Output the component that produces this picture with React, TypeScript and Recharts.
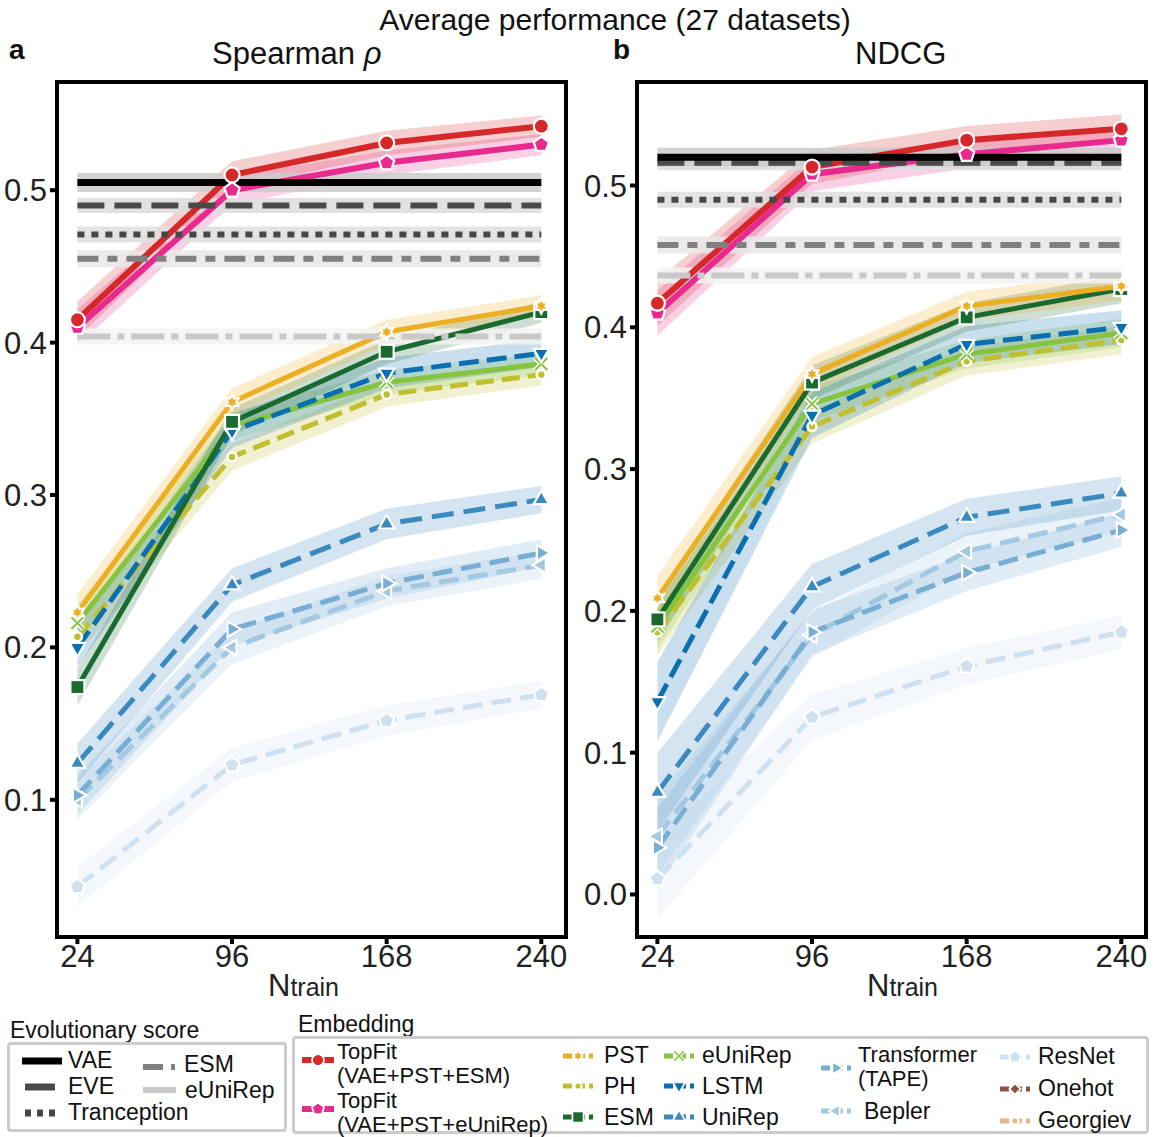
import React from 'react';
import { ComposedChart, Line, Area, XAxis, YAxis, ReferenceArea } from 'recharts';

const FONT = '"Liberation Sans", Arial, Helvetica, sans-serif';

// training set sizes
const nTrain = [24, 96, 168, 240];

// Spearman rho, averaged over datasets
const spTopfitEsm = [0.415, 0.510, 0.531, 0.542];
const spTopfitEuni = [0.410, 0.500, 0.518, 0.530];
const spPst = [0.223, 0.361, 0.407, 0.424];
const spPh = [0.207, 0.325, 0.366, 0.379];
const spEsm = [0.174, 0.348, 0.394, 0.420];
const spEuni = [0.216, 0.345, 0.374, 0.386];
const spLstm = [0.200, 0.342, 0.380, 0.393];
const spUnirep = [0.124, 0.241, 0.281, 0.297];
const spTape = [0.103, 0.212, 0.242, 0.262];
const spBepler = [0.100, 0.200, 0.237, 0.254];
const spResnet = [0.043, 0.123, 0.152, 0.169];
// evolutionary scores (no training): VAE, EVE, Tranception, ESM, eUniRep
const spEvo = [0.505, 0.490, 0.471, 0.455, 0.404];

// NDCG, averaged over datasets
const ndTopfitEsm = [0.417, 0.513, 0.532, 0.540];
const ndTopfitEuni = [0.410, 0.508, 0.522, 0.532];
const ndPst = [0.209, 0.367, 0.415, 0.429];
const ndPh = [0.185, 0.330, 0.376, 0.391];
const ndEsm = [0.194, 0.361, 0.407, 0.427];
const ndEuni = [0.189, 0.346, 0.381, 0.396];
const ndLstm = [0.136, 0.338, 0.388, 0.400];
const ndUnirep = [0.072, 0.217, 0.266, 0.283];
const ndTape = [0.033, 0.185, 0.227, 0.257];
const ndBepler = [0.041, 0.183, 0.242, 0.268];
const ndResnet = [0.011, 0.125, 0.161, 0.185];
const ndEvo = [0.520, 0.516, 0.490, 0.458, 0.4365];

// half-width of the shaded interval at each training size
const spCi = [0.012, 0.009, 0.008, 0.007];
const spCiBlue = [0.013, 0.011, 0.010, 0.009];
const ndCi = [0.016, 0.012, 0.010, 0.010];
const ndCiBlue = [0.028, 0.016, 0.013, 0.012];

const spTicks = [0.1, 0.2, 0.3, 0.4, 0.5];
const ndTicks = [0.0, 0.1, 0.2, 0.3, 0.4, 0.5];

type Shape = 'circle' | 'pentagon' | 'star' | 'dot' | 'square' | 'x' | 'down' | 'up' | 'right' | 'left' | 'diamond';

interface Series {
  key: string;
  name: string;
  color: string;
  dash?: string;
  width: number;
  shape: Shape;
  blue?: boolean;
}

// drawn bottom to top
const series: Series[] = [
  { key: 'resnet', name: 'ResNet', color: '#cfe1f0', dash: '20 9', width: 5, shape: 'pentagon', blue: true },
  { key: 'bepler', name: 'Bepler', color: '#a3c8e2', dash: '20 9', width: 5, shape: 'left', blue: true },
  { key: 'tape', name: 'Transformer (TAPE)', color: '#78aed4', dash: '20 9', width: 5, shape: 'right', blue: true },
  { key: 'unirep', name: 'UniRep', color: '#3a8ac0', dash: '22 10', width: 5, shape: 'up', blue: true },
  { key: 'ph', name: 'PH', color: '#bfbf30', dash: '18 8', width: 5, shape: 'dot' },
  { key: 'euni', name: 'eUniRep', color: '#86c440', width: 5, shape: 'x' },
  { key: 'lstm', name: 'LSTM', color: '#0a6fb0', dash: '20 8', width: 5, shape: 'down', blue: true },
  { key: 'esm', name: 'ESM', color: '#1a6a30', width: 5, shape: 'square' },
  { key: 'pst', name: 'PST', color: '#ecae22', width: 5, shape: 'star' },
  { key: 'topEuni', name: 'TopFit (VAE+PST+eUniRep)', color: '#e8298e', width: 6, shape: 'pentagon' },
  { key: 'topEsm', name: 'TopFit (VAE+PST+ESM)', color: '#d6282a', width: 6, shape: 'circle' },
];

interface Evo {
  key: string;
  name: string;
  color: string;
  dash?: string;
  band: string;
  bandWidth: number;
}

const evo: Evo[] = [
  { key: 'eUniRepEvo', name: 'eUniRep', color: '#c9c9c9', dash: '33 7 7 7', band: '#f3f3f3', bandWidth: 16 },
  { key: 'esmEvo', name: 'ESM', color: '#808080', dash: '21 9 10 9', band: '#e8e8e8', bandWidth: 17 },
  { key: 'tranception', name: 'Tranception', color: '#474747', dash: '7 7', band: '#dedede', bandWidth: 16 },
  { key: 'eve', name: 'EVE', color: '#4a4a4a', dash: '27 10', band: '#dcdcdc', bandWidth: 15 },
  { key: 'vae', name: 'VAE', color: '#000000', band: '#cbcbcb', bandWidth: 19 },
];

function buildRows(values: Record<string, number[]>, evoVals: number[], ci: number[], ciBlue: number[]) {
  return nTrain.map((n, i) => {
    const row: Record<string, number | number[]> = { n };
    series.forEach((s) => {
      const v = values[s.key][i];
      const h = s.blue ? ciBlue[i] : ci[i];
      row[s.key] = v;
      row[s.key + 'Band'] = [v - h, v + h];
    });
    // evo entries are listed VAE first in the value arrays
    ['vae', 'eve', 'tranception', 'esmEvo', 'eUniRepEvo'].forEach((k, j) => {
      row[k] = evoVals[j];
    });
    return row;
  });
}

const spRows = buildRows(
  {
    topEsm: spTopfitEsm, topEuni: spTopfitEuni, pst: spPst, ph: spPh, esm: spEsm, euni: spEuni,
    lstm: spLstm, unirep: spUnirep, tape: spTape, bepler: spBepler, resnet: spResnet,
  },
  spEvo, spCi, spCiBlue,
);

const ndRows = buildRows(
  {
    topEsm: ndTopfitEsm, topEuni: ndTopfitEuni, pst: ndPst, ph: ndPh, esm: ndEsm, euni: ndEuni,
    lstm: ndLstm, unirep: ndUnirep, tape: ndTape, bepler: ndBepler, resnet: ndResnet,
  },
  ndEvo, ndCi, ndCiBlue,
);

function polygon(cx: number, cy: number, r: number, k: number, rot: number) {
  const pts: string[] = [];
  for (let i = 0; i < k; i++) {
    const a = rot + (i * 2 * Math.PI) / k;
    pts.push(`${cx + r * Math.cos(a)},${cy + r * Math.sin(a)}`);
  }
  return pts.join(' ');
}

function starPoints(cx: number, cy: number, r: number) {
  const pts: string[] = [];
  for (let i = 0; i < 12; i++) {
    const a = -Math.PI / 2 + (i * Math.PI) / 6;
    const rr = i % 2 === 0 ? r : r * 0.55;
    pts.push(`${cx + rr * Math.cos(a)},${cy + rr * Math.sin(a)}`);
  }
  return pts.join(' ');
}

function Marker({ cx, cy, shape, color, scale = 1 }: { cx: number; cy: number; shape: Shape; color: string; scale?: number }) {
  const sw = 2.2 * scale;
  const common = { fill: color, stroke: '#ffffff', strokeWidth: sw };
  const s = scale;
  switch (shape) {
    case 'circle':
      return <circle cx={cx} cy={cy} r={7.5 * s} {...common} />;
    case 'pentagon':
      return <polygon points={polygon(cx, cy, 8 * s, 5, -Math.PI / 2)} {...common} />;
    case 'star':
      return <polygon points={starPoints(cx, cy, 7.5 * s)} {...common} />;
    case 'dot':
      return <circle cx={cx} cy={cy} r={4.5 * s} {...common} strokeWidth={2.6 * s} />;
    case 'square':
      return <rect x={cx - 7 * s} y={cy - 7 * s} width={14 * s} height={14 * s} {...common} />;
    case 'diamond':
      return <polygon points={polygon(cx, cy, 7 * s, 4, -Math.PI / 2)} {...common} />;
    case 'x':
      return (
        <g>
          <path d={`M${cx - 6 * s},${cy - 6 * s}L${cx + 6 * s},${cy + 6 * s}M${cx - 6 * s},${cy + 6 * s}L${cx + 6 * s},${cy - 6 * s}`} stroke="#ffffff" strokeWidth={5 * s} />
          <path d={`M${cx - 6 * s},${cy - 6 * s}L${cx + 6 * s},${cy + 6 * s}M${cx - 6 * s},${cy + 6 * s}L${cx + 6 * s},${cy - 6 * s}`} stroke={color} strokeWidth={2 * s} />
        </g>
      );
    case 'down':
      return <polygon points={polygon(cx, cy, 9 * s, 3, Math.PI / 2)} {...common} />;
    case 'up':
      return <polygon points={polygon(cx, cy, 9 * s, 3, -Math.PI / 2)} {...common} />;
    case 'right':
      return <polygon points={polygon(cx, cy, 9 * s, 3, 0)} {...common} />;
    case 'left':
      return <polygon points={polygon(cx, cy, 9 * s, 3, Math.PI)} {...common} />;
    default:
      return null;
  }
}

function XTitle(props: any) {
  const vb = props.viewBox || {};
  const x = vb.x + vb.width / 2 + (props.shift || 0);
  const y = vb.y + 59;
  return (
    <text x={x} y={y} textAnchor="middle" fontFamily={FONT} fill="#222">
      <tspan fontSize={31}>N</tspan>
      <tspan fontSize={25}>train</tspan>
    </text>
  );
}

const tickFont = { fill: '#222', fontSize: 31, fontFamily: FONT };
const X_DOMAIN: [number, number] = [14.5, 251.5];

function Panel({ rows, yDomain, yTicks, width, titleShift }: { rows: any[]; yDomain: [number, number]; yTicks: number[]; width: number; titleShift: number }) {
  const height = 1010;
  return (
    <ComposedChart width={width} height={height} data={rows} margin={{ top: 82, right: width - 565 - 1, left: 2, bottom: 3 }}>
      <XAxis
        dataKey="n"
        type="number"
        domain={X_DOMAIN}
        ticks={nTrain}
        allowDataOverflow
        height={70}
        tick={tickFont}
        tickSize={7}
        tickMargin={1}
        tickLine={{ stroke: '#000', strokeWidth: 4 }}
        axisLine={false}
        label={<XTitle shift={titleShift} />}
      />
      <YAxis
        type="number"
        domain={yDomain}
        ticks={yTicks}
        allowDataOverflow
        width={55}
        tick={tickFont}
        tickSize={7}
        tickMargin={3}
        tickFormatter={(v) => Number(v).toFixed(1)}
        tickLine={{ stroke: '#000', strokeWidth: 4 }}
        axisLine={false}
      />

      {/* shaded intervals */}
      {series.map((s) => (
        <Area
          key={s.key + 'Band'}
          dataKey={s.key + 'Band'}
          type="linear"
          stroke="none"
          fill={s.color}
          fillOpacity={0.22}
          isAnimationActive={false}
          activeDot={false}
        />
      ))}

      {/* evolutionary score bands and lines */}
      {evo.map((e) => (
        <Line
          key={e.key + 'Band'}
          dataKey={e.key}
          stroke={e.band}
          strokeWidth={e.bandWidth}
          strokeOpacity={0.85}
          dot={false}
          activeDot={false}
          isAnimationActive={false}
        />
      ))}

      {series.map((s) => (
        <Line
          key={s.key}
          dataKey={s.key}
          type="linear"
          stroke={s.color}
          strokeWidth={s.width}
          strokeDasharray={s.dash}
          activeDot={false}
          isAnimationActive={false}
          dot={(p: any) => <Marker key={`${s.key}-${p.index}`} cx={p.cx} cy={p.cy} shape={s.shape} color={s.color} />}
        />
      ))}

      {evo.map((e) => (
        <Line
          key={e.key}
          dataKey={e.key}
          stroke={e.color}
          strokeWidth={e.key === 'vae' ? 7 : 6}
          strokeDasharray={e.dash}
          dot={false}
          activeDot={false}
          isAnimationActive={false}
        />
      ))}

      <ReferenceArea
        x1={X_DOMAIN[0]}
        x2={X_DOMAIN[1]}
        y1={yDomain[0]}
        y2={yDomain[1]}
        fill="none"
        stroke="#000"
        strokeWidth={4}
        ifOverflow="visible"
      />
    </ComposedChart>
  );
}

// legend swatch: short line, marker, short line
function Swatch({ color, shape, dash, width = 5, w = 32 }: { color: string; shape?: Shape; dash?: string; width?: number; w?: number }) {
  return (
    <svg width={w} height={16} style={{ display: 'block' }}>
      <line x1={0} y1={8} x2={w} y2={8} stroke={color} strokeWidth={width} strokeDasharray={dash} />
      {shape && <Marker cx={w / 2} cy={8} shape={shape} color={color} scale={0.8} />}
    </svg>
  );
}

const lbl: React.CSSProperties = { position: 'absolute', fontFamily: FONT, fontSize: 23, color: '#111', lineHeight: '22px', whiteSpace: 'nowrap' };
// two-line entries are set a little smaller so the lines stay clear of each other
const lbl2: React.CSSProperties = { ...lbl, fontSize: 22, lineHeight: '21px' };

function Item({ x, y, children, sw }: { x: number; y: number; children: React.ReactNode; sw: React.ReactNode }) {
  return (
    <>
      <div style={{ position: 'absolute', left: x, top: y - 8 }}>{sw}</div>
      {children}
    </>
  );
}

function Legends() {
  const byKey = (k: string) => series.find((s) => s.key === k)!;
  const sw = (k: string) => {
    const s = byKey(k);
    return <Swatch color={s.color} shape={s.shape} dash="9 4" w={30} />;
  };
  return (
    <>
      <div style={{ ...lbl, left: 10, top: 1019 }}>Evolutionary score</div>
      <div style={{ position: 'absolute', left: 7, top: 1042, width: 274, height: 84, border: '3px solid #cccccc', borderRadius: 4 }} />
      <Item x={22} y={1061} sw={<Swatch color="#000" width={7} w={40} />}>
        <div style={{ ...lbl, left: 68, top: 1049 }}>VAE</div>
      </Item>
      <Item x={25} y={1087} sw={<Swatch color="#4a4a4a" width={7} w={30} />}>
        <div style={{ ...lbl, left: 68, top: 1075 }}>EVE</div>
      </Item>
      <Item x={25} y={1113} sw={<Swatch color="#474747" width={7} dash="6 6" w={34} />}>
        <div style={{ ...lbl, left: 68, top: 1101 }}>Tranception</div>
      </Item>
      <Item x={143} y={1067} sw={<Swatch color="#808080" width={6} dash="20 8 4 8" w={32} />}>
        <div style={{ ...lbl, left: 184, top: 1053 }}>ESM</div>
      </Item>
      <Item x={143} y={1090} sw={<Swatch color="#c9c9c9" width={6} w={33} />}>
        <div style={{ ...lbl, left: 185, top: 1079 }}>eUniRep</div>
      </Item>

      <div style={{ ...lbl, left: 298, top: 1013 }}>Embedding</div>
      <div style={{ position: 'absolute', left: 292, top: 1036, width: 851, height: 92, border: '3px solid #cccccc', borderRadius: 4 }} />

      <Item x={302} y={1060} sw={<Swatch color="#d6282a" shape="circle" width={6} w={32} />}>
        <div style={{ ...lbl2, left: 337, top: 1041 }}>TopFit</div>
        <div style={{ ...lbl2, left: 337, top: 1065 }}>(VAE+PST+ESM)</div>
      </Item>
      <Item x={302} y={1109} sw={<Swatch color="#e8298e" shape="pentagon" width={6} w={32} />}>
        <div style={{ ...lbl2, left: 337, top: 1090 }}>TopFit</div>
        <div style={{ ...lbl2, left: 337, top: 1114 }}>(VAE+PST+eUniRep)</div>
      </Item>

      <Item x={563} y={1056} sw={sw('pst')}>
        <div style={{ ...lbl, left: 604, top: 1044 }}>PST</div>
      </Item>
      <Item x={563} y={1086} sw={sw('ph')}>
        <div style={{ ...lbl, left: 604, top: 1075 }}>PH</div>
      </Item>
      <Item x={563} y={1117} sw={sw('esm')}>
        <div style={{ ...lbl, left: 604, top: 1106 }}>ESM</div>
      </Item>

      <Item x={664} y={1056} sw={sw('euni')}>
        <div style={{ ...lbl, left: 702, top: 1044 }}>eUniRep</div>
      </Item>
      <Item x={664} y={1086} sw={sw('lstm')}>
        <div style={{ ...lbl, left: 702, top: 1075 }}>LSTM</div>
      </Item>
      <Item x={664} y={1117} sw={sw('unirep')}>
        <div style={{ ...lbl, left: 702, top: 1106 }}>UniRep</div>
      </Item>

      <Item x={821} y={1068} sw={sw('tape')}>
        <div style={{ ...lbl2, left: 858, top: 1044 }}>Transformer</div>
        <div style={{ ...lbl2, left: 858, top: 1068 }}>(TAPE)</div>
      </Item>
      <Item x={821} y={1111} sw={sw('bepler')}>
        <div style={{ ...lbl, left: 864, top: 1100 }}>Bepler</div>
      </Item>

      <Item x={1000} y={1057} sw={sw('resnet')}>
        <div style={{ ...lbl, left: 1038, top: 1045 }}>ResNet</div>
      </Item>
      <Item x={1000} y={1089} sw={<Swatch color="#8c5248" shape="diamond" dash="9 4" w={30} />}>
        <div style={{ ...lbl, left: 1038, top: 1077 }}>Onehot</div>
      </Item>
      <Item x={1000} y={1121} sw={<Swatch color="#e2b893" shape="dot" dash="9 4" w={30} />}>
        <div style={{ ...lbl, left: 1038, top: 1109 }}>Georgiev</div>
      </Item>
    </>
  );
}

export default function App() {
  const txt: React.CSSProperties = { position: 'absolute', fontFamily: FONT, color: '#111', whiteSpace: 'nowrap', lineHeight: 1 };
  return (
    <div style={{ position: 'absolute', left: 0, top: 0, width: 1156, height: 1137, background: '#fff', overflow: 'hidden' }}>
      <div style={{ ...txt, left: 0, width: 1230, textAlign: 'center', top: 5, fontSize: 30 }}>Average performance (27 datasets)</div>
      <div style={{ ...txt, left: 9, top: 36, fontSize: 28, fontWeight: 'bold' }}>a</div>
      <div style={{ ...txt, left: 613, top: 36, fontSize: 28, fontWeight: 'bold' }}>b</div>
      <div style={{ ...txt, left: 212, top: 38, fontSize: 31 }}>
        Spearman <span style={{ fontStyle: 'italic' }}>ρ</span>
      </div>
      <div style={{ ...txt, left: 855, top: 38, fontSize: 31 }}>NDCG</div>

      <div style={{ position: 'absolute', left: 0, top: 0 }}>
        <Panel rows={spRows} yDomain={[0.010, 0.571]} yTicks={spTicks} width={580} titleShift={-8} />
      </div>
      <div style={{ position: 'absolute', left: 580, top: 0 }}>
        <Panel rows={ndRows} yDomain={[-0.030, 0.573]} yTicks={ndTicks} width={576} titleShift={11} />
      </div>

      <Legends />
    </div>
  );
}
